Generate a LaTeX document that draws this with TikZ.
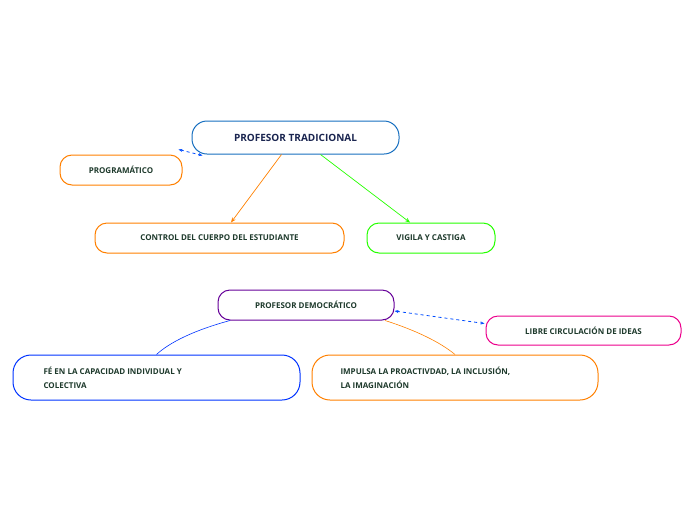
\documentclass[tikz,border=0pt]{standalone}
\usepackage{fontspec}
\setmainfont{Open Sans}
\usetikzlibrary{arrows.meta}
\definecolor{tg}{HTML}{1E3A2C}
\definecolor{nv}{HTML}{1A2550}
\tikzset{box/.style={draw,line width=1pt,rounded corners=12pt,fill=white,font=\bfseries\fontsize{8}{12}\selectfont,text=tg,inner sep=0pt},
con/.style={line width=0.7pt,-{Stealth[length=5pt,width=4pt]}},
dsh/.style={draw=blue!70!cyan,line width=0.8pt,dashed,{Stealth[length=4pt]}-{Stealth[length=4pt]}}}
\begin{document}
\begin{tikzpicture}[x=1pt,y=-1pt]
\useasboundingbox (0,0) rectangle (696,520);
\node[box,draw=cyan!50!blue,minimum width=207pt,minimum height=33pt,text=nv,font=\bfseries\fontsize{10}{12}\selectfont,rounded corners=15pt] (pt) at (295.5,137.5) {PROFESOR TRADICIONAL};
\node[box,draw=orange,minimum width=122pt,minimum height=30pt] (pr) at (121,170) {PROGRAMÁTICO};
\node[box,draw=orange,minimum width=249pt,minimum height=30pt] (co) at (219.5,238) {CONTROL DEL CUERPO DEL ESTUDIANTE};
\node[box,draw=green!80!lime,minimum width=128pt,minimum height=30pt] (vi) at (431,238) {VIGILA Y CASTIGA};
\node[box,draw=violet!80!blue,minimum width=176pt,minimum height=30pt] (pd) at (306,305) {PROFESOR DEMOCRÁTICO};
\node[box,draw=magenta,minimum width=195pt,minimum height=29pt] (li) at (583.5,330.5) {LIBRE CIRCULACIÓN DE IDEAS};
\node[box,draw=blue!80!cyan,minimum width=287pt,minimum height=45pt,rounded corners=18pt] (fe) at (156.5,377.5) {};
\node[box,draw=orange,minimum width=286pt,minimum height=45pt,rounded corners=18pt] (im) at (455,377.5) {};
\node[anchor=west,align=left,font=\bfseries\fontsize{8}{14}\selectfont,text=tg] (fet) at (40,377.5) {FÉ EN LA CAPACIDAD INDIVIDUAL Y\\COLECTIVA};
\node[anchor=west,align=left,font=\bfseries\fontsize{8}{14}\selectfont,text=tg] (imt) at (337,377.5) {IMPULSA LA PROACTIVDAD, LA INCLUSIÓN,\\LA IMAGINACIÓN};
\draw[con,orange] ([xshift=-14pt]pt.south) -- ([xshift=11.5pt]co.north);
\draw[con,green!80!lime] ([xshift=25pt]pt.south) -- ([xshift=-21pt]vi.north);
\draw[dsh] (pr.north east)++(-4pt,5pt) coordinate (a) -- ([xshift=11pt,yshift=-1pt]pt.south west);
\draw[dsh] ([yshift=-6pt]pd.east) -- ([xshift=-1pt,yshift=-8pt]li.north west);
\draw[blue!80!cyan,line width=0.6pt] ([xshift=-76pt]pd.south) .. controls (195,330) and (170,342) .. (fe.north);
\draw[orange,line width=0.6pt] ([xshift=79pt]pd.south) .. controls (415,330) and (440,342) .. (im.north);
\end{tikzpicture}
\end{document}
